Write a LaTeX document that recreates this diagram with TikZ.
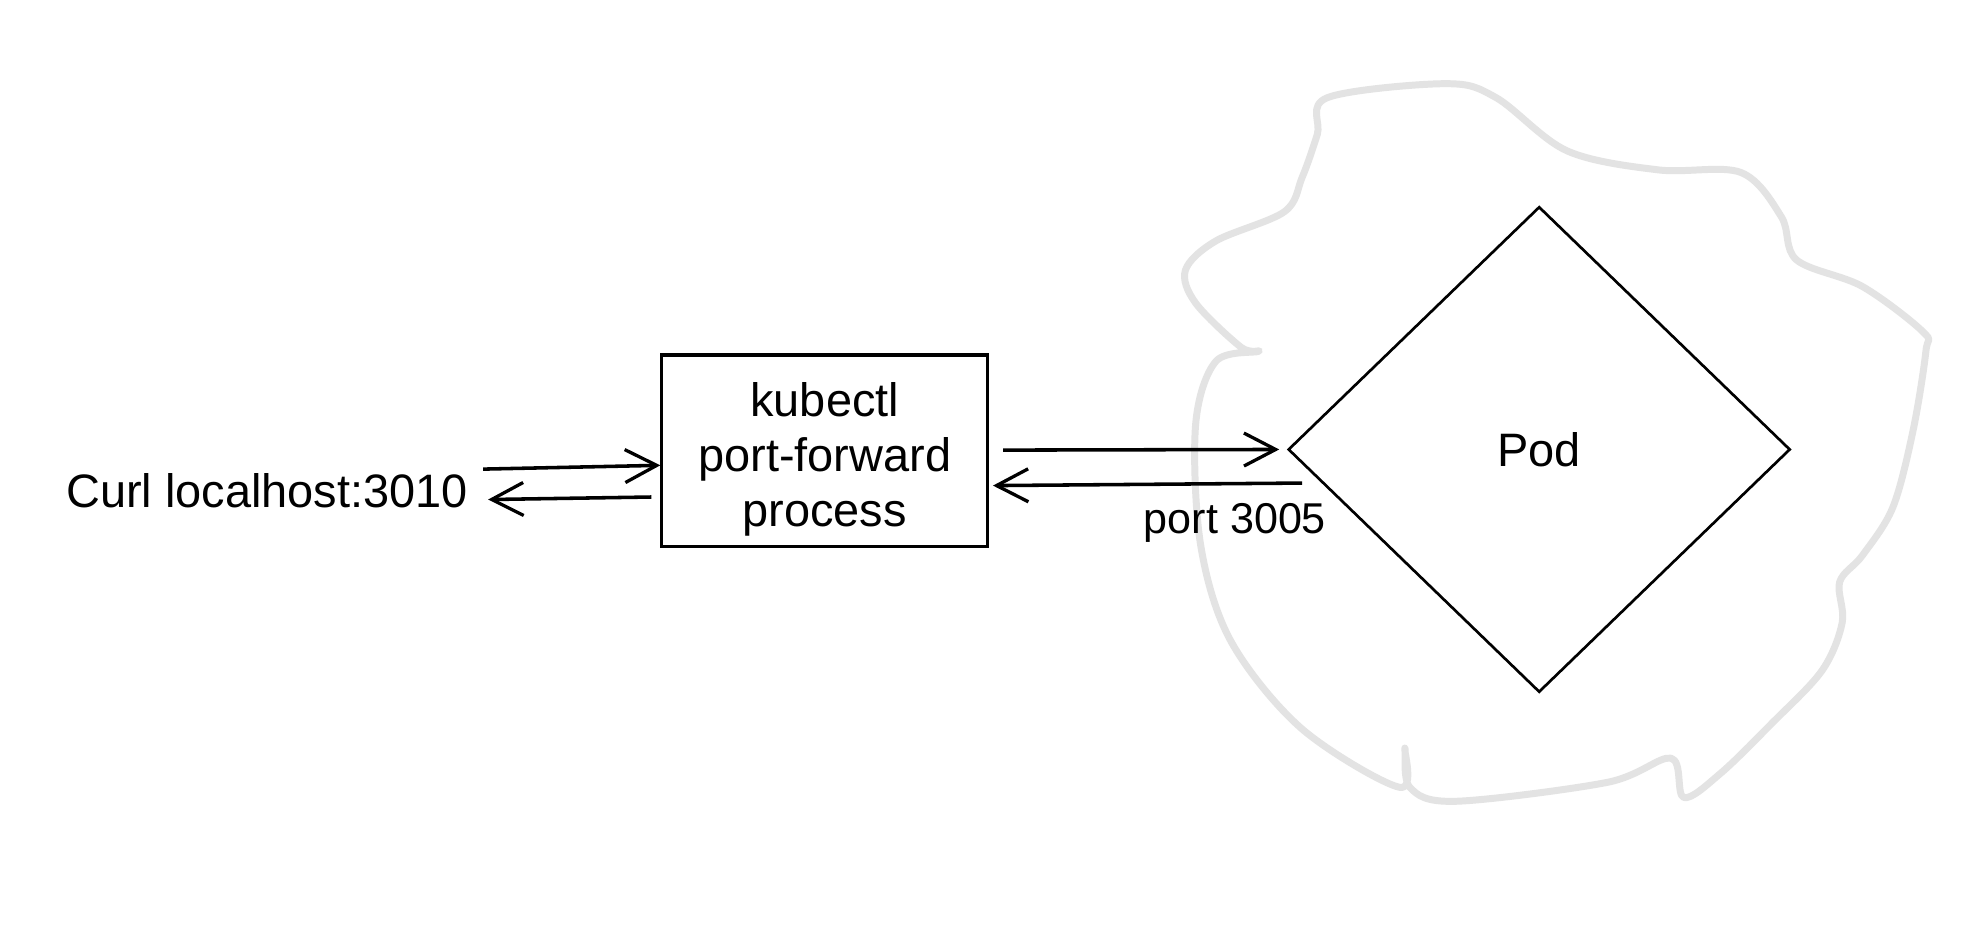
\documentclass[tikz,border=0pt]{standalone}
\usepackage{fontspec}
\setmainfont{Liberation Sans}
\usetikzlibrary{arrows.meta,shapes.geometric}
\begin{document}
\begin{tikzpicture}[x=1pt,y=-1pt,
  arr/.style={line width=2.8pt,-{Straight Barb[length=25pt,width=26pt,line width=2.6pt]}},
  lbl/.style={font=\fontsize{37}{43.5}\selectfont,inner sep=0pt},
  smalllbl/.style={font=\fontsize{34}{40}\selectfont,inner sep=0pt},
  boxstyle/.style={draw,line width=2.4pt,minimum width=257pt,minimum height=151pt,align=center,inner sep=0pt,font=\fontsize{37}{43.5}\selectfont},
  podstyle/.style={draw,diamond,line width=2.1pt,minimum width=396pt,minimum height=383pt,inner sep=0pt,font=\fontsize{37}{43.5}\selectfont},
  cloudstyle/.style={draw=black!11,line width=5.5pt,line join=round}
]
\useasboundingbox (0,0) rectangle (1568,734);
\fill[white] (0,0) rectangle (1568,734);

% cloud
\draw[cloudstyle] plot[smooth cycle,tension=0.55] coordinates {
 (1047,77) (1140,66) (1180,77) (1236,119) (1308,134) (1373,136) (1405,171)
 (1417,205) (1469,226) (1517,262) (1519,277) (1509,339) (1493,400) (1469,438)
 (1451,459) (1453,491) (1437,529) (1397,571) (1357,610) (1328,629) (1318,598)
 (1268,617) (1148,632) (1112,621) (1108,590) (1104,621) (1027,575) (971,506)
 (947,430) (943,335) (959,285) (993,277) (979,274) (943,239) (935,213)
 (959,190) (1013,167) (1027,140) (1039,106)};

% nodes
\node[lbl,anchor=base west] (curl) at (52,400) {Curl localhost:3010};
\node[boxstyle] (pf) at (650.5,355.5) {\rule{0pt}{40pt}kubectl\\port-forward\\process};
\node[podstyle] (pod) at (1214,354.5) {Pod};
\node[smalllbl,anchor=base west] (port) at (902,421) {port 3005};

% connectors
\coordinate (c1s) at (381,370);
\coordinate (c2e) at (385,394);
\draw[arr] (c1s) -- (pf.west |- 0,367);
\draw[arr] ([xshift=-7pt]pf.west |- 0,392) -- (c2e);
\coordinate (c4s) at (1027,381);
\draw[arr] (pf.east |- 0,355) ++(11,0) -- ([xshift=-6pt]pod.west);
\draw[arr] (c4s) -- ([xshift=3pt]pf.east |- 0,383);
\end{tikzpicture}
\end{document}
